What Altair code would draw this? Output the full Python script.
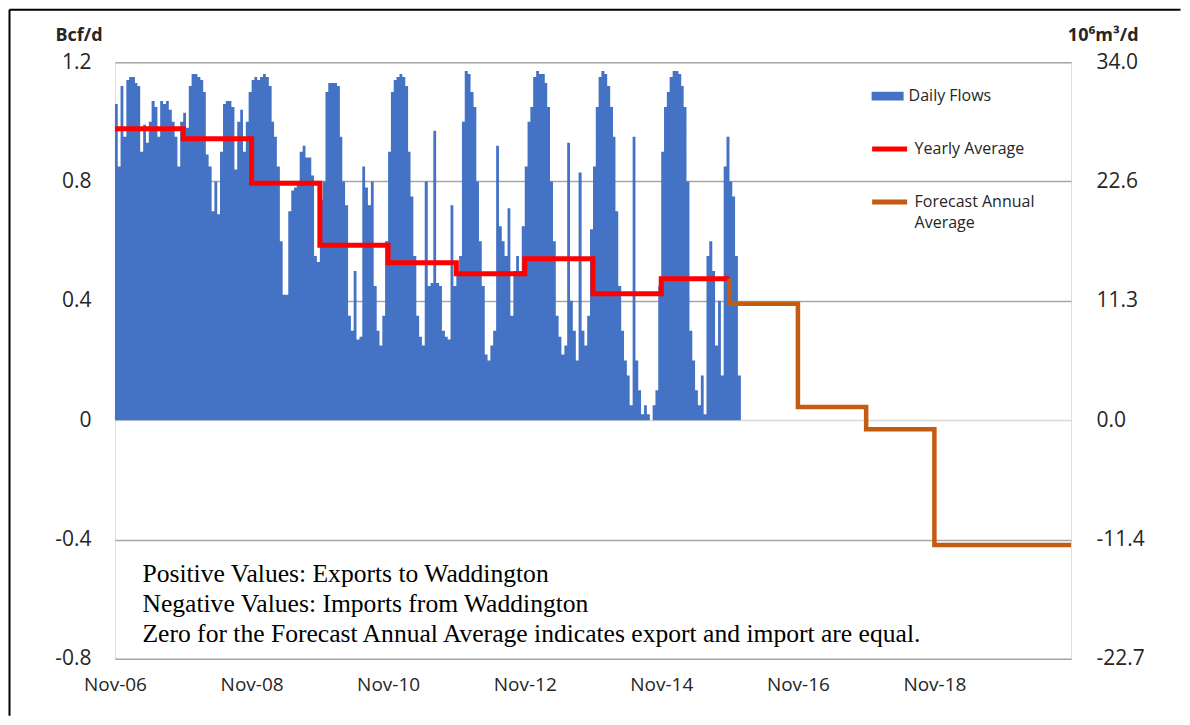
import altair as alt
import pandas as pd

# ---------------- data ----------------
# Daily flows (Bcf/d), two readings per month (1st and 16th), Nov-2006 .. Dec-2015
flow_values = [
    1.06, 0.85, 1.12, 0.95, 1.14, 1.15, 1.15, 1.13, 1.12, 0.90, 0.99, 0.93,   # Nov06-Apr07
    1.00, 1.07, 1.05, 0.95, 1.07, 1.06, 1.07, 1.04, 1.00, 0.95, 0.85, 1.00,   # May07-Oct07
    1.03, 0.98, 1.12, 1.16, 1.16, 1.15, 1.14, 1.10, 0.89, 0.85, 0.70, 0.80,   # Nov07-Apr08
    0.69, 0.90, 1.06, 1.07, 1.07, 1.05, 0.84, 1.00, 1.04, 0.90, 1.00, 1.10,   # May08-Oct08
    1.14, 1.15, 1.14, 1.15, 1.16, 1.15, 1.12, 1.00, 0.95, 0.85, 0.60, 0.42,   # Nov08-Apr09
    0.42, 0.70, 0.77, 0.78, 0.80, 0.90, 0.92, 0.88, 0.88, 0.82, 0.55, 0.53,   # May09-Oct09
    0.74, 0.80, 1.10, 1.13, 1.13, 1.13, 1.12, 0.95, 0.80, 0.72, 0.35, 0.30,   # Nov09-Apr10
    0.50, 0.27, 0.28, 0.85, 0.78, 0.72, 0.80, 0.45, 0.30, 0.25, 0.35, 0.60,   # May10-Oct10
    0.90, 1.10, 1.14, 1.15, 1.16, 1.15, 1.12, 0.90, 0.75, 0.55, 0.35, 0.28,   # Nov10-Apr11
    0.25, 0.80, 0.45, 0.46, 0.97, 0.46, 0.45, 0.30, 0.28, 0.27, 0.72, 0.45,   # May11-Oct11
    0.50, 0.55, 1.00, 1.17, 1.16, 1.10, 1.05, 0.80, 0.60, 0.45, 0.22, 0.20,   # Nov11-Apr12
    0.25, 0.30, 0.92, 0.65, 0.60, 0.55, 0.71, 0.35, 0.50, 0.55, 0.50, 0.65,   # May12-Oct12
    0.85, 1.00, 1.05, 1.15, 1.17, 1.16, 1.16, 1.13, 1.05, 0.80, 0.60, 0.35,   # Nov12-Apr13
    0.28, 0.22, 0.25, 0.93, 0.40, 0.30, 0.20, 0.83, 0.30, 0.25, 0.35, 0.64,   # May13-Oct13
    0.85, 1.05, 1.15, 1.17, 1.16, 1.12, 1.05, 0.95, 0.70, 0.45, 0.30, 0.20,   # Nov13-Apr14
    0.15, 0.05, 0.95, 0.20, 0.10, 0.02, 0.05, 0.02, 0.00, 0.05, 0.10, 0.45,   # May14-Oct14
    0.90, 1.05, 1.10, 1.15, 1.17, 1.17, 1.16, 1.12, 1.05, 0.80, 0.30, 0.20,   # Nov14-Apr15
    0.10, 0.05, 0.15, 0.02, 0.55, 0.60, 0.50, 0.25, 0.40, 0.15, 0.85, 0.95,   # May15-Oct15
    0.80, 0.75, 0.55, 0.15,                                                     # Nov15-Dec15
]
flow_end = "2016-01-01"

# Yearly average (gas years Nov-Oct)
avg_starts = ["2006-11-01", "2007-11-01", "2008-11-01", "2009-11-01", "2010-11-01",
              "2011-11-01", "2012-11-01", "2013-11-01", "2014-11-01"]
avg_values = [0.977, 0.943, 0.794, 0.586, 0.528, 0.491, 0.541, 0.424, 0.474]
avg_end = "2015-11-01"

# Forecast annual average
fc_starts = ["2015-11-01", "2016-11-01", "2017-11-01", "2018-11-01", "2019-11-01"]
fc_values = [0.39, 0.044, -0.03, -0.418, -0.418]
fc_end = "2020-11-01"

y_ticks = [1.2, 0.8, 0.4, 0, -0.4, -0.8]
right_labels = ["34.0", "22.6", "11.3", "0.0", "-11.4", "-22.7"]
x_ticks = ["2006-11-01", "2008-11-01", "2010-11-01", "2012-11-01",
           "2014-11-01", "2016-11-01", "2018-11-01"]
x_domain = ["2006-11-01", "2020-11-01"]

annotation_lines = [
    "Positive Values: Exports to Waddington",
    "Negative Values: Imports from Waddington",
    "Zero for the Forecast Annual Average indicates export and import are equal.",
]

# ---------------- tables ----------------
flow_dates = []
for i in range(len(flow_values)):
    m = 10 + i // 2
    year = 2006 + m // 12
    mon = m % 12 + 1
    day = 1 if i % 2 == 0 else 16
    flow_dates.append(f"{year}-{mon:02d}-{day:02d}")
flow_df = pd.DataFrame({
    "date": flow_dates + [flow_end],
    "value": flow_values + [flow_values[-1]],
    "series": "Daily Flows",
})

avg_df = pd.DataFrame({
    "date": avg_starts + [avg_end],
    "value": avg_values + [avg_values[-1]],
    "series": "Yearly Average",
})
avg_df["idx"] = range(len(avg_df))

fc_df = pd.DataFrame({
    "date": [fc_starts[0]] + fc_starts + [fc_end],
    "value": [avg_values[-1]] + fc_values + [fc_values[-1]],
    "series": "Forecast Annual Average",
})
fc_df["idx"] = range(len(fc_df))

# ---------------- scales & axes ----------------
FONT = "Open Sans"
TXT = "#262626"
BLUE = "#4472C4"
RED = "#FF0000"
ORANGE = "#C55A11"

xscale = alt.Scale(domain=x_domain, nice=False)
yscale = alt.Scale(domain=[-0.8, 1.2], nice=False, zero=False)

x_axis = alt.Axis(
    values=x_ticks, format="%b-%y", title=None, grid=False, ticks=False,
    domain=False, labelFont=FONT, labelFontSize=19, labelColor=TXT,
    labelPadding=17, labelFlush=False,
)

left_axis = alt.Axis(
    values=y_ticks, orient="left",
    labelExpr="datum.value == 0 ? '0' : replace(format(datum.value, '.1f'), '\u2212', '-')",
    title="Bcf/d", titleAngle=0, titleAlign="left", titleBaseline="alphabetic",
    titleX=-60, titleY=-22, titleFont=FONT, titleFontSize=18,
    titleFontWeight="bold", titleColor=TXT,
    labelFont=FONT, labelFontSize=21, labelColor=TXT, labelPadding=24,
    ticks=False, domain=False, grid=True,
    gridColor={"condition": {"test": "datum.value === 0", "value": "#D9D9D9"},
               "value": "#A6A6A6"},
    gridWidth=1.5,
)

right_expr = " : ".join(
    f"abs(datum.value - ({v})) < 1e-9 ? '{l}'" for v, l in zip(y_ticks, right_labels)
) + " : ''"
right_axis = alt.Axis(
    values=y_ticks, orient="right", labelExpr=right_expr,
    title="10\u2076m\u00b3/d", titleAngle=0, titleAlign="right",
    titleBaseline="alphabetic", titleX=67, titleY=-22, titleFont=FONT,
    titleFontSize=18, titleFontWeight="bold", titleColor=TXT,
    labelFont=FONT, labelFontSize=21, labelColor=TXT, labelPadding=25,
    labelAlign="left", ticks=False, domain=False, grid=False,
)

def legend(x, y, **kw):
    return alt.Legend(
        orient="none", legendX=x, legendY=y, title=None, padding=0,
        labelFont=FONT, labelFontSize=16, labelColor=TXT, labelOffset=5,
        labelLimit=300, **kw,
    )

area = alt.Chart(flow_df).mark_area(interpolate="step-after", opacity=1).encode(
    x=alt.X("date:T", scale=xscale, axis=x_axis),
    y=alt.Y("value:Q", scale=yscale, axis=left_axis),
    fill=alt.Fill("series:N",
                  scale=alt.Scale(domain=["Daily Flows"], range=[BLUE]),
                  legend=legend(757, 18, symbolType="M-1,-0.28H1V0.28H-1Z",
                                symbolSize=1024, symbolStrokeWidth=0,
                                symbolOpacity=1)),
)

red = alt.Chart(avg_df).mark_line(interpolate="step-after", strokeWidth=5).encode(
    x=alt.X("date:T", scale=xscale, axis=x_axis),
    y=alt.Y("value:Q", scale=yscale, axis=right_axis),
    order=alt.Order("idx:Q"),
    stroke=alt.Stroke("series:N",
                      scale=alt.Scale(domain=["Yearly Average"], range=[RED]),
                      legend=legend(755, 67, symbolType="stroke", symbolSize=1225,
                                    symbolStrokeWidth=5)),
)

orange = alt.Chart(fc_df).mark_line(interpolate="step-after", strokeWidth=4.5).encode(
    x=alt.X("date:T", scale=xscale, axis=x_axis),
    y=alt.Y("value:Q", scale=yscale, axis=None),
    order=alt.Order("idx:Q"),
    color=alt.Color("series:N",
                    scale=alt.Scale(domain=["Forecast Annual Average"], range=[ORANGE]),
                    legend=legend(755, 120, symbolType="stroke", symbolSize=1225,
                                  symbolStrokeWidth=5,
                                  labelExpr="datum.label == 'Forecast Annual Average' ? ['Forecast Annual', 'Average'] : datum.label")),
)

one = pd.DataFrame({"a": [0]})
note = alt.Chart(one).mark_text(
    font="Liberation Serif", fontSize=25.6, align="left", baseline="top",
    lineBreak="\n", lineHeight=30, color="black",
).encode(
    x=alt.value(27.5), y=alt.value(500),
    text=alt.value("\n".join(annotation_lines)),
)

frame_top = alt.Chart(one).mark_rule(color="black", strokeWidth=2).encode(
    x=alt.value(-105.5), x2=alt.value(1066), y=alt.value(-52.5)
)
frame_left = alt.Chart(one).mark_rule(color="black", strokeWidth=2).encode(
    x=alt.value(-105.5), y=alt.value(-52.5), y2=alt.value(654)
)

chart = alt.layer(area, red, orange, note, frame_top, frame_left).resolve_scale(
    y="independent", fill="independent", stroke="independent", color="independent"
).properties(
    width=956.5, height=597, padding=0, background="white"
).configure_view(
    stroke="#A6A6A6", strokeWidth=1.5
).configure(
    style={"guide-label": {"lineHeight": 21}}
)

chart.save("out.html", embed_options={"renderer": "svg", "actions": False})
